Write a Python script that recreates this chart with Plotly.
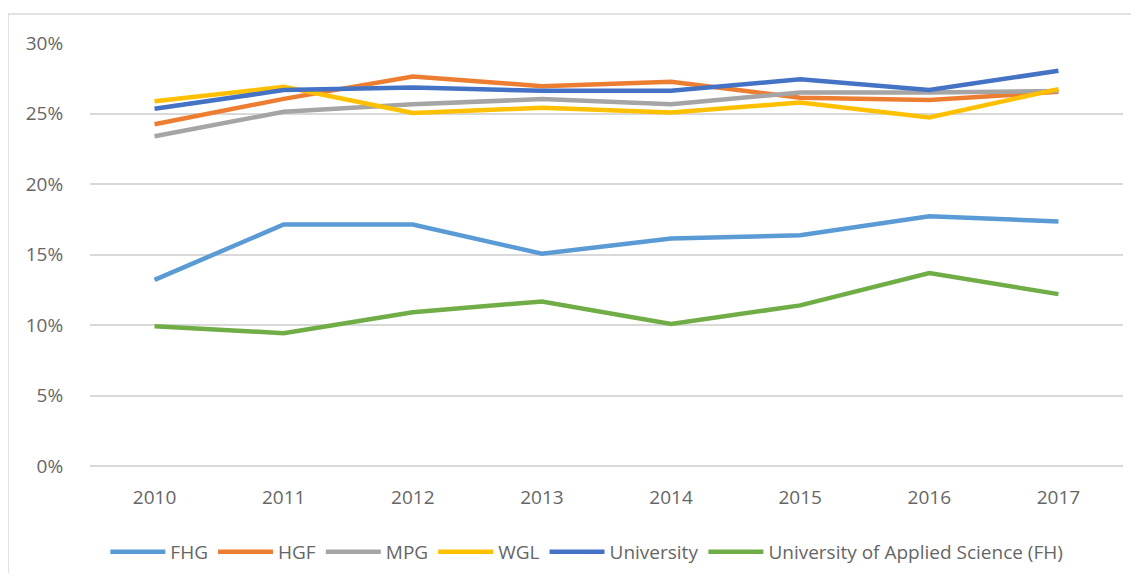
import plotly.graph_objects as go

# share of something per organisation and year, in percent
years = ['2010', '2011', '2012', '2013', '2014', '2015', '2016', '2017']

fhg = [13.2, 17.13, 17.13, 15.06, 16.13, 16.37, 17.72, 17.34]
hgf = [24.24, 26.04, 27.63, 26.94, 27.25, 26.11, 25.95, 26.54]
mpg = [23.39, 25.12, 25.66, 26.02, 25.66, 26.49, 26.49, 26.6]
wgl = [25.87, 26.89, 25.04, 25.40, 25.07, 25.78, 24.72, 26.73]
university = [25.33, 26.66, 26.85, 26.61, 26.61, 27.42, 26.66, 28.03]
fh = [9.92, 9.42, 10.91, 11.67, 10.08, 11.39, 13.68, 12.19]

y_ticks = [0, 5, 10, 15, 20, 25, 30]
y_tick_labels = ['0%', '5%', '10%', '15%', '20%', '25%', '30%']

series = [
    ('FHG', fhg, '#5B9BD5'),
    ('HGF', hgf, '#ED7D31'),
    ('MPG', mpg, '#A5A5A5'),
    ('WGL', wgl, '#FFC000'),
    ('University', university, '#4472C4'),
    ('University of Applied Science (FH)', fh, '#70AD47'),
]

# page body has an 8px margin, so the figure is a bit smaller than the window
W, H = 1123, 565
ml, mr, mt, mb = 82, 8, 35, 107


def make_graph():
    fig = go.Figure()
    for name, values, color in series:
        fig.add_trace(go.Scatter(x=years, y=values, mode='lines', name=name,
                                 line=dict(color=color, width=4.5)))

    pw = W - ml - mr
    ph = H - mt - mb
    # light outer chart border (only top/left visible in the reference)
    fig.add_shape(type='rect', xref='paper', yref='paper',
                  x0=(0 - ml) / pw, x1=(W + 20 - ml) / pw,
                  y0=-(H + 20 - mt - ph) / ph, y1=(ph + mt - 6) / ph,
                  line=dict(color='#D9D9D9', width=1.5), layer='below')

    fig.update_layout(
        width=W, height=H,
        margin=dict(l=ml, r=mr, t=mt, b=mb, autoexpand=False),
        paper_bgcolor='white', plot_bgcolor='white',
        font=dict(family='Open Sans', size=19, color='#666666'),
        showlegend=True,
        legend=dict(orientation='h', x=0.481, xanchor='center', y=-0.203, yanchor='middle',
                    font=dict(family='Open Sans', size=19, color='#666666'),
                    itemwidth=55, tracegroupgap=0),
        xaxis=dict(type='category', range=[-0.5, 7.5], showgrid=False, showline=False,
                   zeroline=False, ticks='outside', ticklen=14, tickcolor='rgba(0,0,0,0)'),
        yaxis=dict(range=[0, 30], tickvals=y_ticks, ticktext=y_tick_labels,
                   showgrid=True, gridcolor='#D9D9D9', gridwidth=1.5,
                   zeroline=True, zerolinecolor='#D9D9D9', zerolinewidth=1.5,
                   showline=False, ticks='outside', ticklen=22, tickcolor='rgba(0,0,0,0)'),
    )
    fig.write_html('out.html')


if __name__ == '__main__':
    make_graph()
